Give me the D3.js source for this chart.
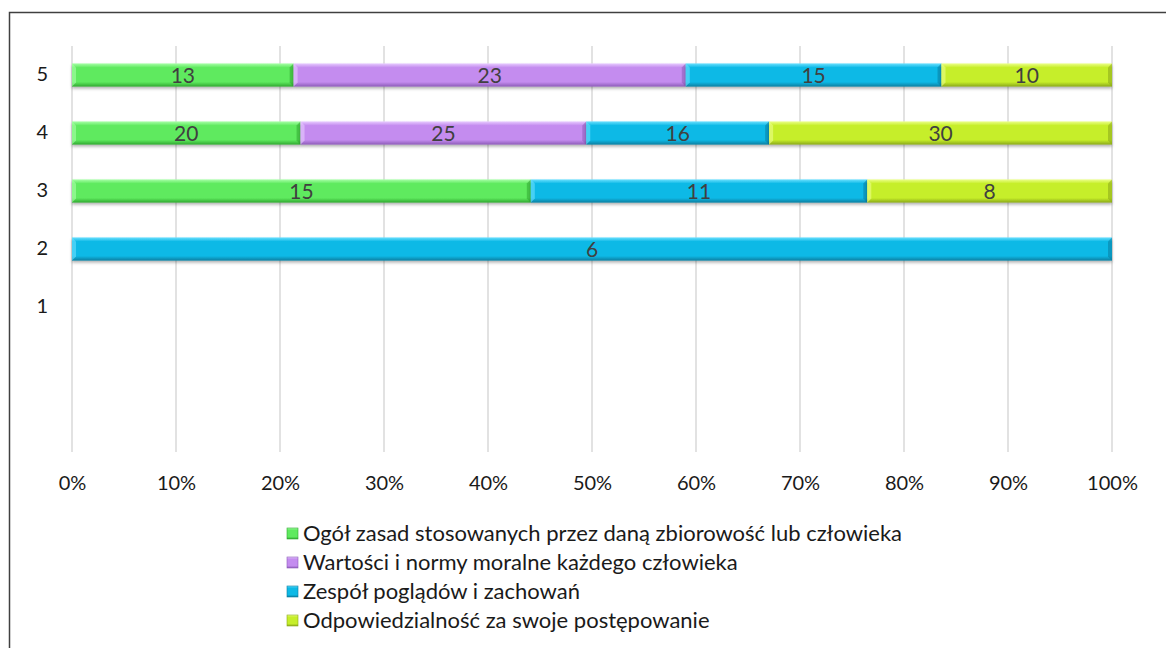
<!DOCTYPE html>
<html>
<head>
<meta charset="utf-8">
<script src="https://cdn.jsdelivr.net/npm/d3@7"></script>
<style>
  body { margin: 0; background: #fff; }
  svg { display: block; font-family: Lato, "Open Sans", sans-serif; }
</style>
</head>
<body>
<svg id="chart" width="1166" height="648"></svg>
<script>
// Category rows, bottom to top (two empty rows below "1")
const categories = ["", " ", "1", "2", "3", "4", "5"];
const seriesNames = [
  "Ogół zasad stosowanych przez daną zbiorowość lub człowieka",
  "Wartości i normy moralne każdego człowieka",
  "Zespół poglądów i zachowań",
  "Odpowiedzialność za swoje postępowanie"
];
// Counts per category for each series
const ogol        = [0, 0, 0, 0, 15, 20, 13];
const wartosci    = [0, 0, 0, 0, 0, 25, 23];
const zespol      = [0, 0, 0, 6, 11, 16, 15];
const odpowiedz   = [0, 0, 0, 0, 8, 30, 10];
const tickValues  = [0, 0.1, 0.2, 0.3, 0.4, 0.5, 0.6, 0.7, 0.8, 0.9, 1.0];

const colors = [
  { base: "#5fea5f", light: "#a8ffa8", dark: "#2fa82f" },
  { base: "#c48cef", light: "#e8ccff", dark: "#8d5bb8" },
  { base: "#0db9e6", light: "#6be0ff", dark: "#0a7ea0" },
  { base: "#c6ee2a", light: "#ecff8a", dark: "#8aa81a" }
];

const svg = d3.select("#chart");
const W = 1166, H = 648;

// outer frame (top and left edges visible)
svg.append("path")
  .attr("d", `M9.5,${H} L9.5,12.5 L${W},12.5`)
  .attr("fill", "none").attr("stroke", "#404040").attr("stroke-width", 1.5);

const x = d3.scaleLinear().domain([0, 1]).range([72, 1112]);
const y = d3.scaleBand().domain(categories.slice().reverse()).range([46, 452])
  .paddingInner(0.6).paddingOuter(0.3);

const defs = svg.append("defs");
colors.forEach((c, i) => {
  const g = defs.append("linearGradient").attr("id", "g" + i)
    .attr("x1", 0).attr("y1", 0).attr("x2", 0).attr("y2", 1);
  g.append("stop").attr("offset", "0%").attr("stop-color", c.light);
  g.append("stop").attr("offset", "18%").attr("stop-color", c.base);
  g.append("stop").attr("offset", "80%").attr("stop-color", c.base);
  g.append("stop").attr("offset", "100%").attr("stop-color", c.dark);
});
const f = defs.append("filter").attr("id", "sh").attr("x", "-5%").attr("y", "-30%")
  .attr("width", "110%").attr("height", "180%");
f.append("feDropShadow").attr("dx", 0).attr("dy", 2).attr("stdDeviation", 1.6)
  .attr("flood-color", "#000").attr("flood-opacity", 0.3);

// vertical gridlines
svg.append("g").selectAll("line").data(tickValues).join("line")
  .attr("x1", d => x(d)).attr("x2", d => x(d))
  .attr("y1", 46).attr("y2", 452)
  .attr("stroke", "#d9d9d9").attr("stroke-width", 1.5);

// x axis tick labels
const xAxis = d3.axisBottom(x).tickValues(tickValues).tickFormat(d3.format(".0%")).tickSize(0).tickPadding(0);
const xg = svg.append("g").attr("transform", "translate(0,476)").call(xAxis);
xg.select(".domain").remove();
xg.selectAll("text").attr("font-size", 20).attr("fill", "#1a1a1a")
  .attr("font-family", "Lato, 'Open Sans', sans-serif");

// category labels
const yAxis = d3.axisLeft(y).tickSize(0).tickPadding(0);
const yg = svg.append("g").attr("transform", "translate(48,0)").call(yAxis);
yg.select(".domain").remove();
yg.selectAll("text").attr("font-size", 20).attr("fill", "#1a1a1a")
  .attr("font-family", "Lato, 'Open Sans', sans-serif");

// stacked 100% bars
const series = [ogol, wartosci, zespol, odpowiedz];
const rows = categories.map((cat, i) => {
  const vals = series.map(s => s[i]);
  const total = d3.sum(vals);
  let acc = 0;
  return vals.map((v, k) => {
    const seg = { cat, k, v, x0: total ? acc / total : 0 };
    acc += v;
    seg.x1 = total ? acc / total : 0;
    return seg;
  }).filter(s => s.v > 0);
});

const bars = svg.append("g");
rows.flat().forEach(s => {
  const x0 = x(s.x0), x1 = x(s.x1), y0 = y(s.cat), h = y.bandwidth();
  const c = colors[s.k];
  const g = bars.append("g");
  g.append("rect").attr("x", x0).attr("y", y0).attr("width", x1 - x0).attr("height", h)
    .attr("fill", `url(#g${s.k})`).attr("filter", "url(#sh)");
  const b = 4;
  // bevelled ends
  g.append("path").attr("d", `M${x1},${y0} L${x1},${y0 + h} L${x1 - b},${y0 + h - b} L${x1 - b},${y0 + b} Z`)
    .attr("fill", c.dark).attr("opacity", 0.55);
  g.append("path").attr("d", `M${x0},${y0} L${x0 + b},${y0 + b} L${x0 + b},${y0 + h - b} L${x0},${y0 + h} Z`)
    .attr("fill", c.light).attr("opacity", 0.6);
  g.append("text").attr("x", (x0 + x1) / 2).attr("y", y0 + h / 2)
    .attr("dy", "0.36em").attr("text-anchor", "middle")
    .attr("font-size", 21).attr("fill", "#404040").text(s.v);
});

// legend
const lg = svg.append("g").attr("transform", "translate(287,533)");
seriesNames.forEach((name, i) => {
  const row = lg.append("g").attr("transform", `translate(0,${i * 29})`);
  row.append("rect").attr("x", 0).attr("y", -5).attr("width", 11).attr("height", 11)
    .attr("fill", `url(#g${i})`).attr("stroke", colors[i].dark).attr("stroke-width", 0.6);
  row.append("text").attr("x", 16).attr("y", 0).attr("dy", "0.36em")
    .attr("font-size", 22).attr("fill", "#1a1a1a").text(name);
});
</script>
</body>
</html>
